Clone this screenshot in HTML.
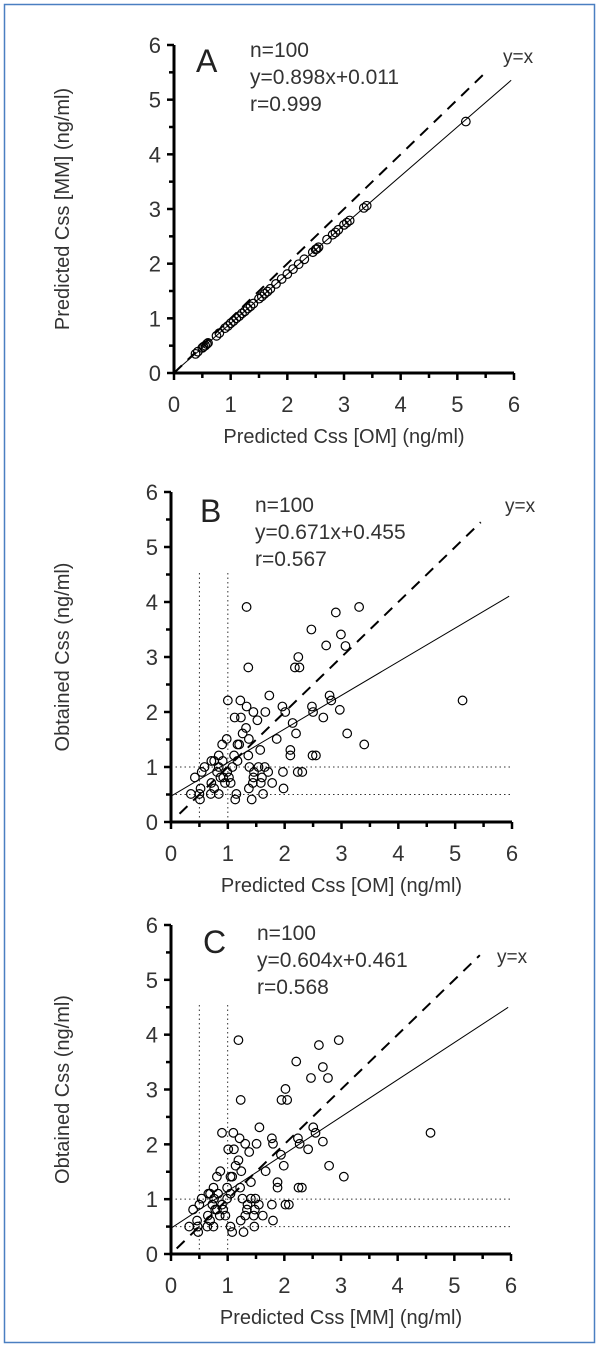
<!DOCTYPE html>
<html><head><meta charset="utf-8"><style>
html,body{margin:0;padding:0;background:#fff;}
svg{display:block;font-family:"Liberation Sans",sans-serif;}
</style></head><body>
<svg id="fig" width="600" height="1346" viewBox="0 0 600 1346">
<rect x="4.5" y="4.5" width="590" height="1338" fill="none" stroke="#4a7fc1" stroke-width="1.5"/>
</svg>
<script>
// Panel A data
const aX = [0.38,0.42,0.5,0.52,0.55,0.58,0.6,0.75,0.8,0.9,0.95,1.0,1.05,1.1,1.15,1.2,1.25,1.3,1.35,1.4,1.5,1.55,1.6,1.65,1.7,1.8,1.9,2.0,2.1,2.2,2.3,2.45,2.5,2.52,2.55,2.7,2.8,2.85,2.9,3.0,3.05,3.1,3.35,3.4,5.15];
const aY = [0.35,0.39,0.46,0.48,0.50,0.53,0.55,0.68,0.73,0.82,0.86,0.91,0.95,1.00,1.04,1.09,1.13,1.18,1.22,1.27,1.36,1.40,1.45,1.49,1.54,1.63,1.72,1.81,1.90,1.99,2.08,2.21,2.26,2.27,2.30,2.44,2.53,2.57,2.62,2.71,2.75,2.79,3.02,3.06,4.6];
// Panel B data
const bX = [1.33,3.31,2.90,2.47,2.99,2.73,3.07,2.24,2.18,2.26,1.36,1.73,2.79,2.82,5.13,1.0,1.22,1.33,1.96,2.48,1.45,1.66,2.01,2.50,2.97,1.12,1.23,1.52,2.68,2.14,1.32,1.26,2.2,3.1,0.98,1.37,1.86,0.9,1.17,1.2,3.4,1.57,2.1,0.84,1.11,1.36,2.1,2.49,2.55,0.71,0.76,0.91,1.17,0.59,0.84,1.08,1.38,1.54,1.65,0.42,0.54,0.81,0.99,1.46,1.71,1.97,2.23,2.31,0.87,0.92,1.02,1.45,1.6,0.71,0.95,1.05,1.44,1.58,1.78,0.76,0.52,1.37,1.98,0.35,0.5,0.7,0.84,1.15,1.62,0.51,1.13,1.42];
const bY = [3.91,3.91,3.81,3.50,3.41,3.21,3.2,3.0,2.81,2.81,2.81,2.30,2.30,2.21,2.21,2.21,2.21,2.1,2.1,2.1,2.0,2.0,2.0,2.0,2.04,1.9,1.9,1.85,1.9,1.8,1.71,1.61,1.61,1.61,1.51,1.51,1.51,1.41,1.41,1.41,1.41,1.31,1.31,1.21,1.21,1.21,1.21,1.21,1.21,1.11,1.11,1.11,1.11,1.0,1.0,1.0,1.0,1.0,1.0,0.81,0.91,0.91,0.91,0.91,0.91,0.91,0.91,0.91,0.81,0.81,0.81,0.81,0.81,0.71,0.71,0.71,0.71,0.71,0.71,0.61,0.61,0.61,0.61,0.51,0.51,0.51,0.51,0.51,0.51,0.41,0.41,0.41];
// Panel C data
const cX = [1.19,2.96,2.61,2.21,2.68,2.47,2.77,2.02,1.23,1.95,2.05,1.56,2.51,2.55,4.58,0.9,1.1,1.21,1.78,2.24,1.31,1.51,1.8,2.27,2.68,1.01,1.11,1.38,2.42,1.94,1.19,1.14,1.99,2.79,0.87,1.24,1.67,0.81,1.05,1.08,3.05,1.41,1.88,0.75,0.99,1.22,1.88,2.25,2.31,0.66,0.69,0.83,1.05,0.54,0.76,0.99,1.26,1.41,1.49,0.39,0.5,0.73,0.9,1.35,1.55,1.78,2.02,2.08,0.78,0.81,0.92,1.34,1.48,0.65,0.86,0.96,1.31,1.46,1.62,0.69,0.46,1.23,1.8,0.32,0.47,0.64,0.75,1.05,1.47,0.48,1.08,1.28];
const cY = [3.9,3.9,3.81,3.51,3.41,3.21,3.21,3.01,2.81,2.81,2.81,2.31,2.31,2.21,2.21,2.21,2.21,2.11,2.11,2.11,2.01,2.01,2.01,2.01,2.05,1.91,1.91,1.86,1.91,1.81,1.71,1.61,1.61,1.61,1.51,1.51,1.51,1.41,1.41,1.41,1.41,1.31,1.31,1.21,1.21,1.21,1.21,1.21,1.21,1.1,1.1,1.1,1.1,1.01,1.01,1.01,1.01,1.01,1.01,0.81,0.9,0.9,0.9,0.9,0.9,0.9,0.9,0.9,0.81,0.81,0.81,0.81,0.81,0.7,0.7,0.7,0.7,0.7,0.7,0.61,0.61,0.61,0.61,0.5,0.5,0.5,0.5,0.5,0.5,0.4,0.4,0.4];
const tickLabels = ["0","1","2","3","4","5","6"];
// drawn regression lines (slope, intercept) as they appear in the picture
const lineFits = [[0.898,0.011],[0.611,0.47],[0.677,0.47]];

const NS = "http://www.w3.org/2000/svg";
const svg = document.getElementById('fig');
function mk(tag, attrs, parent){ const e=document.createElementNS(NS,tag); for(const k in attrs) e.setAttribute(k,attrs[k]); (parent||svg).appendChild(e); return e; }

function panel(p){
  const g = mk('g',{});
  
  
  const sx = v => p.x0 + v*(p.x6-p.x0)/6;
  const sy = v => p.y0 - v*(p.y0-p.y6)/6;
  if(p.dots){
    [0.5,1].forEach(v=>{
      const l = mk('line',{x1:sx(v),y1:sy(0),x2:sx(v),y2:sy(4.55),stroke:'#333','stroke-width':1,'stroke-dasharray':'1.5 3'},g);
      
      
      const h = mk('line',{x1:sx(0),y1:sy(v),x2:sx(6),y2:sy(v),stroke:'#333','stroke-width':1,'stroke-dasharray':'1.5 3'},g);
      
      
    });
  }
  const id = mk('line',{x1:sx(p.d0),y1:sy(p.d0),x2:sx(5.45),y2:sy(5.45),stroke:'#000','stroke-width':2,'stroke-dasharray':'11 8'},g);
  
  
  const [m,b] = p.fit;
  const rl = mk('line',{x1:sx(0),y1:sy(b),x2:sx(5.95),y2:sy(m*5.95+b),stroke:'#000','stroke-width':1},g);
  
  
  p.xs.forEach((xv,i)=>{
    const c = mk('circle',{cx:sx(xv),cy:sy(p.ys[i]),r:4.3,fill:'none',stroke:'#000','stroke-width':1.2},g);
    
    
  });
  const ax = mk('path',{d:`M${sx(0)} ${sy(6)}V${sy(0)}H${sx(6)}`,fill:'none',stroke:'#000','stroke-width':3},g);
  
  
  for(let k=0;k<=12;k++){
    const v=k/2, len = (k%2===0)?7:5;
    mk('line',{x1:sx(v),y1:sy(0),x2:sx(v),y2:sy(0)+len,stroke:'#000','stroke-width':2.5},g);
    mk('line',{x1:sx(0),y1:sy(v),x2:sx(0)-len,y2:sy(v),stroke:'#000','stroke-width':2.5},g);
  }
  tickLabels.forEach((t,i)=>{
    const xl = mk('text',{x:sx(i),y:sy(0)+39,'text-anchor':'middle','font-size':22,fill:'#333'},g);
    xl.textContent=t;
    
    
    const yl = mk('text',{x:sx(0)-13,y:sy(i)+8,'text-anchor':'end','font-size':22,fill:'#333'},g);
    yl.textContent=t;
    
    
  });
  const xt = mk('text',{x:(sx(0)+sx(6))/2,y:sy(0)+70,'text-anchor':'middle','font-size':20,fill:'#333'},g);
  xt.textContent=p.xTitle;
  
  
  const cy=(sy(0)+sy(6))/2;
  const yt = mk('text',{x:0,y:0,'text-anchor':'middle','font-size':20,fill:'#333',transform:`translate(69 ${cy}) rotate(-90)`},g);
  yt.textContent=p.yTitle;
  
  
  const L = mk('text',{x:p.lx,y:p.ly,'font-size':32,fill:'#222'},g);
  L.textContent=p.id;
  
  
  p.ann.forEach((s,i)=>{
    const t = mk('text',{x:p.ax,y:p.ay+i*27,'font-size':21,fill:'#333'},g);
    t.textContent=s;
    
    
  });
  const yx = mk('text',{x:p.yxx,y:p.yxy,'font-size':19,fill:'#333'},g);
  yx.textContent='y=x';
  
  
}

panel({id:'A',x0:174,x6:514,y0:373,y6:45,xs:aX,ys:aY,fit:lineFits[0],dots:false,d0:0,
  xTitle:'Predicted Css [OM] (ng/ml)',yTitle:'Predicted Css [MM] (ng/ml)',
  lx:196,ly:72,ax:250,ay:57,ann:['n=100','y=0.898x+0.011','r=0.999'],yxx:503,yxy:63});
panel({id:'B',x0:171,x6:512,y0:822,y6:492,xs:bX,ys:bY,fit:lineFits[1],dots:true,d0:0.15,
  xTitle:'Predicted Css [OM] (ng/ml)',yTitle:'Obtained Css (ng/ml)',
  lx:200,ly:522,ax:255,ay:512,ann:['n=100','y=0.671x+0.455','r=0.567'],yxx:505,yxy:512});
panel({id:'C',x0:171,x6:511,y0:1254,y6:925,xs:cX,ys:cY,fit:lineFits[2],dots:true,d0:0.1,
  xTitle:'Predicted Css [MM] (ng/ml)',yTitle:'Obtained Css (ng/ml)',
  lx:203,ly:953,ax:257,ay:940,ann:['n=100','y=0.604x+0.461','r=0.568'],yxx:497,yxy:963});
</script>
</body></html>
